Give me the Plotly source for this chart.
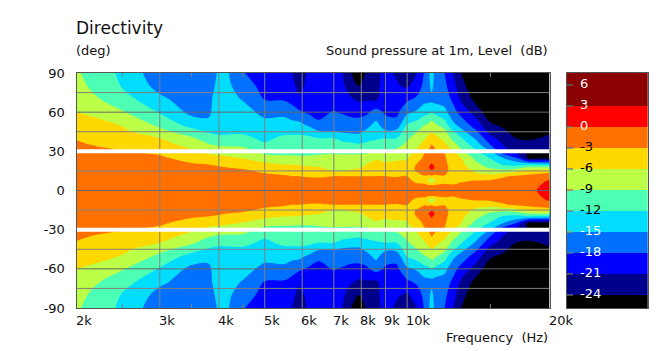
import math
import plotly.graph_objects as go

# ---------- data ----------
angles_half = [0, 4, 7.5, 11, 15, 18, 20, 25, 30, 35, 40, 45, 50, 60, 70, 80, 90]
freqs = [2000, 2500, 3000, 3500, 3800, 4000, 4200, 4500, 5000, 5500, 5700, 5900, 6200, 6500, 7000, 7300, 7600,
         7900, 8200, 8600, 9000, 9500, 10000, 10500, 10900, 11100, 11270, 11450, 12000, 12500, 13000,
         14000, 15000, 16000, 17000, 18000, 19000, 20000]
levels_by_freq = [
    [-.5, -.6, -.7, -.85, -1, -1.2, -1.3, -1.7, -2.2, -2.7, -3.1, -3.8, -4.5, -6, -7.2, -8, -8.6],
    [-.5, -.6, -.7, -.9, -1.2, -1.5, -1.7, -2.3, -2.9, -3.7, -4.5, -5.3, -6.1, -8.7, -10.7, -12.2, -12.6],
    [-.5, -.6, -.8, -1.1, -1.4, -1.8, -2, -2.6, -3.6, -4.8, -6, -8, -9.6, -12.2, -14.4, -16, -17],
    [-.6, -.8, -1, -1.5, -2, -2.4, -2.7, -4.1, -5.5, -7, -8.5, -10.7, -13, -15.8, -16.5, -17, -17.3],
    [-.7, -.9, -1.2, -1.7, -2.3, -2.8, -3, -4.9, -6.8, -8.7, -10.5, -12.3, -14.2, -15.6, -15.8, -16.5, -17],
    [-.7, -.9, -1.2, -1.8, -2.4, -2.9, -3.2, -5.2, -7.2, -9.4, -11.1, -12.8, -13.3, -13.3, -13.6, -14, -14.5],
    [-.8, -1, -1.3, -1.9, -2.5, -3.1, -3.5, -5.6, -7.5, -9.5, -11.2, -12.6, -13.2, -13.5, -14.2, -14.6, -15],
    [-.8, -1.1, -1.5, -2, -2.6, -3.4, -3.9, -6.2, -7.9, -9.6, -11.4, -12.4, -13.1, -13.9, -15.2, -16.6, -17.8],
    [-1, -1.4, -1.8, -2.5, -3.4, -4.5, -5.2, -7.8, -10, -11.7, -12.5, -13.3, -14, -15.8, -18.1, -19, -20],
    [-1.1, -1.5, -2, -2.8, -3.8, -5.2, -6, -8.5, -9.8, -10.7, -11.5, -12.5, -13.6, -15.8, -18.3, -19.8, -20.7],
    [-1.2, -1.7, -2.2, -3, -4, -5.3, -6.1, -8.5, -9.7, -10.6, -11.4, -12.6, -14, -16.6, -19, -20, -20.9],
    [-1.3, -1.7, -2.2, -3, -4.2, -5.4, -6.2, -8.6, -9.8, -10.6, -11.4, -12.5, -14, -17.4, -20.5, -22, -22.8],
    [-1.4, -1.8, -2.3, -3.2, -4.5, -5.8, -6.6, -8.6, -9.8, -10.7, -11.5, -13, -15.4, -18.5, -19.6, -20, -20.5],
    [-1.4, -1.8, -2.3, -3.3, -4.8, -6, -6.8, -8.4, -9.7, -10.9, -12, -14.7, -17.5, -18.7, -19.6, -20, -20.5],
    [-1.5, -1.9, -2.3, -3, -6.1, -6.8, -7.2, -8.3, -9.5, -10.8, -12, -15, -15.8, -17.8, -19.3, -20, -20.7],
    [-1.5, -1.9, -2.3, -3, -6, -6.8, -7.2, -8.3, -9.6, -11, -13, -15.4, -16.2, -18.3, -19.7, -20.4, -21],
    [-1.5, -1.9, -2.3, -3, -5.7, -6.6, -7, -8.2, -9.6, -11.3, -13.3, -15.6, -16.6, -18.8, -20.7, -22.5, -23.9],
    [-1.5, -1.9, -2.3, -3, -5.4, -6.4, -6.9, -8.1, -9.7, -11.6, -13.8, -15.5, -16.6, -19, -21.5, -24, -26],
    [-1.5, -1.9, -2.3, -3, -4.8, -5.6, -6, -8, -9.5, -11.3, -12.9, -14.4, -15.9, -18.6, -21.3, -22.7, -23.7],
    [-1.5, -1.9, -2.3, -3, -3.7, -4.5, -5, -6.5, -9.5, -10.9, -12.3, -13.1, -14.1, -16.8, -21.5, -21.8, -22],
    [-1.5, -1.9, -2.3, -3, -4.2, -5, -5.4, -7, -9, -10.5, -12, -14.5, -16.5, -18.5, -19.4, -19.7, -20],
    [-1.5, -2, -2.5, -3.1, -4.2, -4.9, -5.2, -6.6, -8.3, -10, -12, -14, -16.8, -18.7, -19.5, -20.6, -21.5],
    [-1.6, -2.1, -2.4, -3, -3.9, -4.6, -5.2, -6.3, -7.2, -8.3, -9.4, -10.4, -11.6, -15.6, -18.6, -21.5, -22.8],
    [-1.8, -2.5, -3.6, -3.8, -2.8, -2.5, -2.8, -4.2, -5.5, -6.7, -7.8, -9, -10.5, -14.5, -17.5, -19.5, -21],
    [-1.8, -2.6, -3.8, -3.1, -1.5, -1.2, -1.6, -2.4, -3.1, -4.9, -6.3, -7.7, -9, -13, -16, -17, -17.5],
    [-1.8, -2.8, -6.3, -3.5, -1, -.2, -.8, -2, -2.8, -3.6, -5.2, -6.8, -8.4, -12.7, -16, -16, -15.8],
    [-1.8, -2.7, -9.5, -3.2, -.4, 1.8, .4, -1.6, -2.2, -2.9, -4.6, -6.2, -7.6, -11.8, -16, -14, -13],
    [-1.8, -2.8, -6.3, -3.6, -1.2, -.2, -.8, -2, -2.7, -3.4, -5.1, -6.7, -8.3, -12.7, -16.2, -16.2, -16],
    [-1.8, -2.7, -3.6, -3.1, -2.4, -2.2, -2.3, -2.6, -3.2, -5.4, -6.8, -8.2, -10.5, -14, -16.5, -17.3, -18],
    [-1.8, -2.9, -3.5, -3.7, -3.9, -4, -4.3, -5, -5.8, -7.9, -9.8, -11.5, -14.2, -16.8, -18.6, -19.8, -21],
    [-1.8, -2.5, -3.3, -3.6, -4.2, -4.8, -5.2, -6, -8.3, -10, -11.7, -13.9, -15.9, -19, -21.5, -23, -24],
    [-1.8, -2.4, -2.9, -4.8, -6.7, -7.7, -8.3, -10, -11.7, -13.6, -15.5, -17.5, -19.4, -22.4, -25, -26, -26.5],
    [-1.6, -2, -2.6, -5, -7.8, -9.6, -10.3, -12.2, -15, -18, -20, -22, -23.5, -26, -27, -27, -27],
    [-1.2, -1.6, -2.2, -3.3, -8.2, -10.6, -12.4, -15.2, -19.8, -21.2, -22.4, -23.5, -24.5, -26, -27, -27, -27],
    [-.9, -1.3, -1.9, -2.6, -7, -11, -13, -18, -22, -23, -24, -25, -26, -27, -27, -27, -27],
    [-.5, -.9, -1.4, -2.2, -5, -9.3, -12.6, -24.5, -24.2, -23.5, -24.2, -25.3, -26, -27, -27, -27, -27],
    [.15, -.1, -.6, -1.6, -4.7, -9.2, -13, -25, -23.9, -23.2, -24, -25, -26, -27, -27, -27, -27],
    [1, .6, .2, -1.2, -4.2, -9, -13.5, -25, -23.8, -23, -23.4, -24.4, -25.5, -27, -27, -27, -27],
]
band_edges = [-27, -24, -21, -18, -15, -12, -9, -6, -3, 0, 3, 9]
band_mids = [-25.5, -22.5, -19.5, -16.5, -13.5, -10.5, -7.5, -4.5, -1.5, 1.5, 6]
band_colors = ["#000000", "#00008B", "#0000FF", "#0070FF", "#00DDFF", "#4DFFB5",
               "#BBFF47", "#FFD800", "#FF7000", "#FF0000", "#8B0000"]
legend_levels = [6, 3, 0, -3, -6, -9, -12, -15, -18, -21, -24]
legend_labels = ["6", "3", "0", "-3", "-6", "-9", "-12", "-15", "-18", "-21", "-24"]
legend_text_colors = ["white"] * 3 + ["black"] * 4 + ["white"] * 4
legend_tick_colors = ["#2aa198", "#2aa198", "#2aa198", "#2a5bd0", "#2a5bd0", "#e03020",
                      "#b05040", "#c0a020", "#70a040", "#a09010", "#909090"]
x_tick_vals = [2000, 3000, 4000, 5000, 6000, 7000, 8000, 9000, 10000, 20000]
x_tick_text = ["2k", "3k", "4k", "5k", "6k", "7k", "8k", "9k", "10k", "20k"]
x_grid = [3000, 4000, 5000, 6000, 7000, 8000, 9000, 10000]
x_minor = [2500, 3500, 4500, 15000]
y_ticks = [-90, -60, -30, 0, 30, 60, 90]
y_grid_major = [-60, 0, 60]
y_grid_minor = [-75, -45, -15, 15, 45, 75]
y_white = [-30, 30]

# ---------- build ----------
W, H = 666, 351
MT, MB = 20, 24
L, R, T, B = 76.5, 549.5, 73, 308
CL, CR = 566.7, 648
FONT = "DejaVu Sans"
TXT = "#111111"


def py(px):
    return (H - MB - px) / (H - MT - MB)


half_rows = [list(r) for r in zip(*levels_by_freq)]
angles = [-a for a in angles_half[:0:-1]] + angles_half
z = half_rows[:0:-1] + half_rows

scale = []
n = 36.0
for lo, hi, c in zip(band_edges[:-1], band_edges[1:], band_colors):
    scale.append([(lo + 27) / n, c])
    scale.append([(hi + 27) / n, c])

fig = go.Figure()
fig.add_trace(go.Contour(
    x=freqs, y=angles, z=z, zmin=-27, zmax=9, zauto=False,
    colorscale=scale, showscale=False, autocontour=False,
    contours=dict(start=-24, end=6, size=3, coloring="fill", showlines=False),
    line=dict(width=0), hoverinfo="skip",
))


def segs_h(values):
    xs, ys = [], []
    for v in values:
        xs += [freqs[0], freqs[-1], None]
        ys += [v, v, None]
    return xs, ys


def segs_v(values, y0, y1):
    xs, ys = [], []
    for v in values:
        xs += [v, v, None]
        ys += [y0, y1, None]
    return xs, ys


def line(xs, ys, color, width):
    fig.add_trace(go.Scatter(x=xs, y=ys, mode="lines", line=dict(color=color, width=width),
                             hoverinfo="skip", showlegend=False))


line(*segs_v(x_grid, -90, 90), "#808080", 1)
line(*segs_h(y_grid_minor), "#808080", 1)
line(*segs_h(y_grid_major), "#666666", 1)
line(*segs_v(x_minor, 90, 87), "#808080", 1)
line(*segs_v(x_minor, -90, -87), "#808080", 1)
line(*segs_h(y_white), "#FFFFFF", 4)

# colour key
fig.add_trace(go.Heatmap(
    x=[0, 1], y=band_edges, z=[[m] for m in band_mids], zmin=-27, zmax=9,
    colorscale=scale, showscale=False, xaxis="x2", yaxis="y2", hoverinfo="skip",
))
fig.add_trace(go.Scatter(
    x=[0.034] * len(legend_levels), y=legend_levels, mode="markers", xaxis="x2", yaxis="y2",
    marker=dict(symbol="line-ew", size=5, line=dict(color=legend_tick_colors, width=1)),
    hoverinfo="skip", showlegend=False,
))
fig.add_trace(go.Scatter(
    x=[0.165] * len(legend_levels), y=legend_levels, mode="text", xaxis="x2", yaxis="y2",
    text=legend_labels, textposition="middle right",
    textfont=dict(family=FONT, size=13, color=legend_text_colors),
    hoverinfo="skip", showlegend=False,
))

notes = [
    dict(text="Directivity", xref="paper", yref="paper", x=(L - 3) / W, y=py(28), xanchor="left",
         yanchor="middle", showarrow=False, font=dict(size=17, family=FONT, color=TXT)),
    dict(text="(deg)", xref="paper", yref="paper", x=(L - 3) / W, y=py(50.5), xanchor="left",
         yanchor="middle", showarrow=False),
    dict(text="Sound pressure at 1m, Level\u00a0 (dB)", xref="paper", yref="paper", x=550 / W,
         y=py(50.5), xanchor="right", yanchor="middle", showarrow=False),
    dict(text="Frequency\u00a0 (Hz)", xref="paper", yref="paper", x=550 / W, y=py(337),
         xanchor="right", yanchor="middle", showarrow=False),
]
for v, t in zip(x_tick_vals, x_tick_text):
    notes.append(dict(text=t, xref="x", yref="y", x=math.log10(v), y=-90, xanchor="left", yanchor="top",
                      xshift=-3, yshift=-3, showarrow=False))

frame = dict(showline=True, linecolor="#555555", linewidth=1, mirror=True, showgrid=False, zeroline=False)
fig.update_layout(
    width=W, height=H, margin=dict(l=0, r=0, t=MT, b=MB), paper_bgcolor="white", plot_bgcolor="white",
    showlegend=False, font=dict(family=FONT, size=13, color=TXT),
    xaxis=dict(type="log", range=[math.log10(2000), math.log10(20000)], domain=[L / W, R / W], anchor="y",
               showticklabels=False, ticks="", **frame),
    yaxis=dict(range=[-90, 90], domain=[py(B), py(T)], anchor="x",
               tickmode="array", tickvals=y_ticks, ticktext=[str(v) for v in y_ticks],
               ticks="", ticklabelstandoff=8, tickfont=dict(family=FONT, size=13, color=TXT), **frame),
    xaxis2=dict(range=[0, 1], domain=[CL / W, CR / W], anchor="y2", showticklabels=False, ticks="", **frame),
    yaxis2=dict(range=[-25.86, 7.71], domain=[py(B), py(T)], anchor="x2",
                showticklabels=False, ticks="", **frame),
    annotations=notes,
)
fig.write_html("out.html", config=dict(displayModeBar=False),
               post_script="document.body.style.margin='0';document.body.style.overflow='hidden';")
